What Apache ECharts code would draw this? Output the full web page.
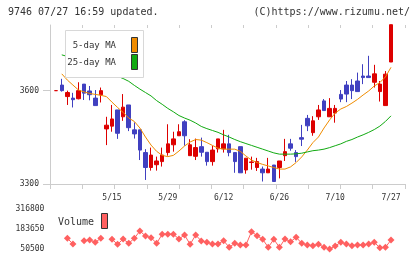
<!DOCTYPE html>
<html><head><meta charset="utf-8">
<script src="https://cdn.jsdelivr.net/npm/echarts@6/dist/echarts.min.js"></script>
<style>html,body{margin:0;padding:0;background:#fff}#c{width:420px;height:259px}</style>
</head><body><div id="c"></div>
<script>
// x-axis date labels (category index -> text)
const labelIndex = [10, 20, 30, 40, 50, 60];
const labelText = ['5/15', '5/29', '6/12', '6/26', '7/10', '7/27'];
const priceTicks = [3300, 3600];
const volumeTicks = [50500, 183650, 316800];

// candles: [open, close, low, high]
const candles = [
  [3600,3600,3600,3600],[3618,3600,3597,3638],[3581,3594,3554,3600],[3576,3571,3546,3593],
  [3574,3600,3572,3627],[3621,3592,3570,3621],[3599,3587,3569,3615],[3576,3552,3552,3602],
  [3587,3600,3562,3610],[3477,3489,3425,3516],[3486,3509,3468,3554],[3538,3463,3445,3538],
  [3516,3547,3503,3589],[3554,3481,3470,3554],[3474,3461,3446,3498],[3474,3409,3377,3474],
  [3401,3353,3313,3412],[3353,3393,3343,3417],[3362,3374,3343,3388],[3372,3393,3356,3417],
  [3401,3429,3391,3492],[3426,3445,3404,3468],[3455,3468,3455,3492],[3500,3455,3423,3505],
  [3391,3426,3391,3444],[3389,3417,3377,3446],[3420,3402,3388,3449],[3402,3372,3359,3402],
  [3372,3409,3359,3423],[3413,3445,3401,3445],[3413,3429,3401,3474],[3429,3401,3389,3458],
  [3401,3372,3336,3401],[3420,3336,3336,3420],[3345,3383,3333,3383],[3369,3371,3346,3388],
  [3353,3372,3342,3384],[3348,3336,3308,3356],[3336,3348,3336,3384],[3361,3308,3308,3361],
  [3353,3374,3318,3374],[3391,3404,3374,3445],[3429,3415,3407,3445],[3401,3388,3371,3409],
  [3449,3444,3422,3490],[3511,3487,3470,3522],[3465,3503,3455,3518],[3516,3538,3506,3554],
  [3567,3536,3536,3573],[3516,3543,3516,3576],[3528,3543,3497,3554],[3588,3573,3563,3602],
  [3618,3589,3563,3631],[3618,3600,3573,3637],[3631,3597,3597,3658],[3647,3642,3621,3685],
  [3647,3642,3642,3712],[3627,3654,3610,3683],[3597,3621,3565,3631],[3552,3653,3552,3663],
  [3692,3812,3692,3812]
];

const ma5 = [null,3654,3634,3618,3602,3596,3591,3588,3585,3581,3563,3546,3530,3512,3501,3480,
  3451,3425,3405,3392,3388,3392,3406,3422,3435,3443,3441,3433,3424,3415,3412,3412,3412,3405,
  3390,3377,3369,3363,3358,3353,3348,3348,3355,3369,3387,3409,3433,3451,3480,3506,3528,3541,
  3549,3560,3572,3586,3599,3615,3626,3644,3675];

const ma25 = [null,3715,3710,3705,3699,3692,3686,3678,3670,3662,3654,3646,3639,3630,3617,3605,
  3594,3583,3568,3556,3543,3532,3520,3512,3505,3496,3485,3478,3472,3466,3458,3451,3443,3436,
  3430,3424,3418,3412,3406,3400,3396,3396,3396,3397,3399,3403,3407,3409,3412,3417,3423,3429,
  3437,3443,3451,3458,3466,3475,3486,3501,3519];

const volume = [null,null,122300,84000,null,106200,110900,95400,122300,null,
  115600,82000,117600,88700,122300,171200,137700,126300,88700,149100,
  149100,149100,117600,144400,82000,144400,104200,95400,84000,84000,
  106200,61900,88700,77300,77300,166600,139700,115600,61900,115600,
  61900,117600,99500,129000,88700,77300,72600,82000,61900,51000,
  70600,95400,84000,72600,77300,77300,84000,95400,59200,61900,110900];

const categories = candles.map((_, i) => String(i));

const MONO = '"DejaVu Sans Mono", monospace';
const AX = '#cccccc';
const TXT = '#333333';
const plain = v => String(v);

const chart = echarts.init(document.getElementById('c'), null, {renderer: 'canvas'});
chart.setOption({
  animation: false,
  backgroundColor: '#ffffff',
  grid: [
    {left: 50, right: 15, top: 25, bottom: 75},
    {left: 53.4, right: 26.2, top: 25, bottom: 75},
    {left: 53.4, right: 26.2, top: 209.3, bottom: 10}
  ],
  xAxis: [
    {gridIndex: 0, type: 'value', min: 0, max: 11, interval: 1,
     axisLine: {show: true, lineStyle: {color: AX}},
     axisTick: {show: true, length: 5, lineStyle: {color: AX}},
     axisLabel: {show: false}, splitLine: {show: false}},
    {gridIndex: 1, type: 'category', data: categories, boundaryGap: true,
     axisLine: {show: false}, axisTick: {show: false}, splitLine: {show: false},
     axisLabel: {interval: 0, margin: 10, fontSize: 8, fontFamily: MONO, color: TXT,
       formatter: (v, i) => { const k = labelIndex.indexOf(i); return k < 0 ? '' : labelText[k]; }}},
    {gridIndex: 2, type: 'category', data: categories, boundaryGap: true, show: false},
    {gridIndex: 0, type: 'value', min: 0, max: 11, interval: 1,
     axisLine: {show: false},
     axisTick: {show: true, inside: true, length: 3, lineStyle: {color: AX}},
     axisLabel: {show: false}, splitLine: {show: false}}
  ],
  yAxis: [
    {gridIndex: 0, type: 'value', min: 3300, max: 3811,
     axisLine: {show: true, lineStyle: {color: AX}},
     axisTick: {show: true, length: 7, customValues: priceTicks, lineStyle: {color: AX}},
     axisLabel: {customValues: priceTicks, formatter: plain, margin: 11, fontSize: 8, fontFamily: MONO, color: TXT},
     splitLine: {show: false}},
    {gridIndex: 1, type: 'value', min: 3300, max: 3811, show: false, splitLine: {show: false}},
    {gridIndex: 2, type: 'value', min: 50500, max: 316800,
     axisLine: {show: false}, axisTick: {show: false}, splitLine: {show: false},
     axisLabel: {customValues: volumeTicks, formatter: plain, margin: 9, fontSize: 8, fontFamily: MONO, color: TXT}}
  ],
  series: [
    {type: 'candlestick', xAxisIndex: 1, yAxisIndex: 1, data: candles, barWidth: 4,
     itemStyle: {color: '#dd0000', color0: '#4040c0', borderColor: '#dd0000', borderColor0: '#4040c0', borderWidth: 1}},
    {type: 'line', xAxisIndex: 1, yAxisIndex: 1, data: ma5, symbol: 'none',
     lineStyle: {color: '#f08c00', width: 1}},
    {type: 'line', xAxisIndex: 1, yAxisIndex: 1, data: ma25, symbol: 'none',
     lineStyle: {color: '#11aa11', width: 1}},
    {type: 'line', xAxisIndex: 2, yAxisIndex: 2, data: volume, symbol: 'diamond', symbolSize: 7,
     showAllSymbol: true, connectNulls: false, clip: false,
     lineStyle: {color: '#ff6060', width: 1}, itemStyle: {color: '#ff6060'}}
  ],
  graphic: [
    {type: 'text', z: 100, style: {x: 8, y: 12.5, text: '9746 07/27 16:59 updated.', font: '10px ' + MONO, fill: TXT, textAlign: 'left', textVerticalAlign: 'middle'}},
    {type: 'text', z: 100, style: {x: 410, y: 12.5, text: '(C)https://www.rizumu.net/', font: '10px ' + MONO, fill: TXT, textAlign: 'right', textVerticalAlign: 'middle'}},
    {type: 'rect', z: 100, shape: {x: 65.5, y: 30.5, width: 78, height: 47}, style: {fill: '#ffffff', stroke: '#d8d8d8', lineWidth: 1}},
    {type: 'text', z: 101, style: {x: 116, y: 46, text: '5-day MA', font: '9px ' + MONO, fill: TXT, textAlign: 'right', textVerticalAlign: 'middle'}},
    {type: 'text', z: 101, style: {x: 116, y: 62.5, text: '25-day MA', font: '9px ' + MONO, fill: TXT, textAlign: 'right', textVerticalAlign: 'middle'}},
    {type: 'rect', z: 101, shape: {x: 131.5, y: 37.5, width: 6, height: 15}, style: {fill: '#f08c00', stroke: '#333', lineWidth: 1}},
    {type: 'rect', z: 101, shape: {x: 131.5, y: 54.5, width: 6, height: 15}, style: {fill: '#11aa11', stroke: '#333', lineWidth: 1}},
    {type: 'text', z: 100, style: {x: 58, y: 222, text: 'Volume', font: '10px ' + MONO, fill: TXT, textAlign: 'left', textVerticalAlign: 'middle'}},
    {type: 'rect', z: 100, shape: {x: 101.5, y: 213.5, width: 6, height: 15}, style: {fill: '#ff6060', stroke: '#333', lineWidth: 1}}
  ]
});
</script>
</body></html>
